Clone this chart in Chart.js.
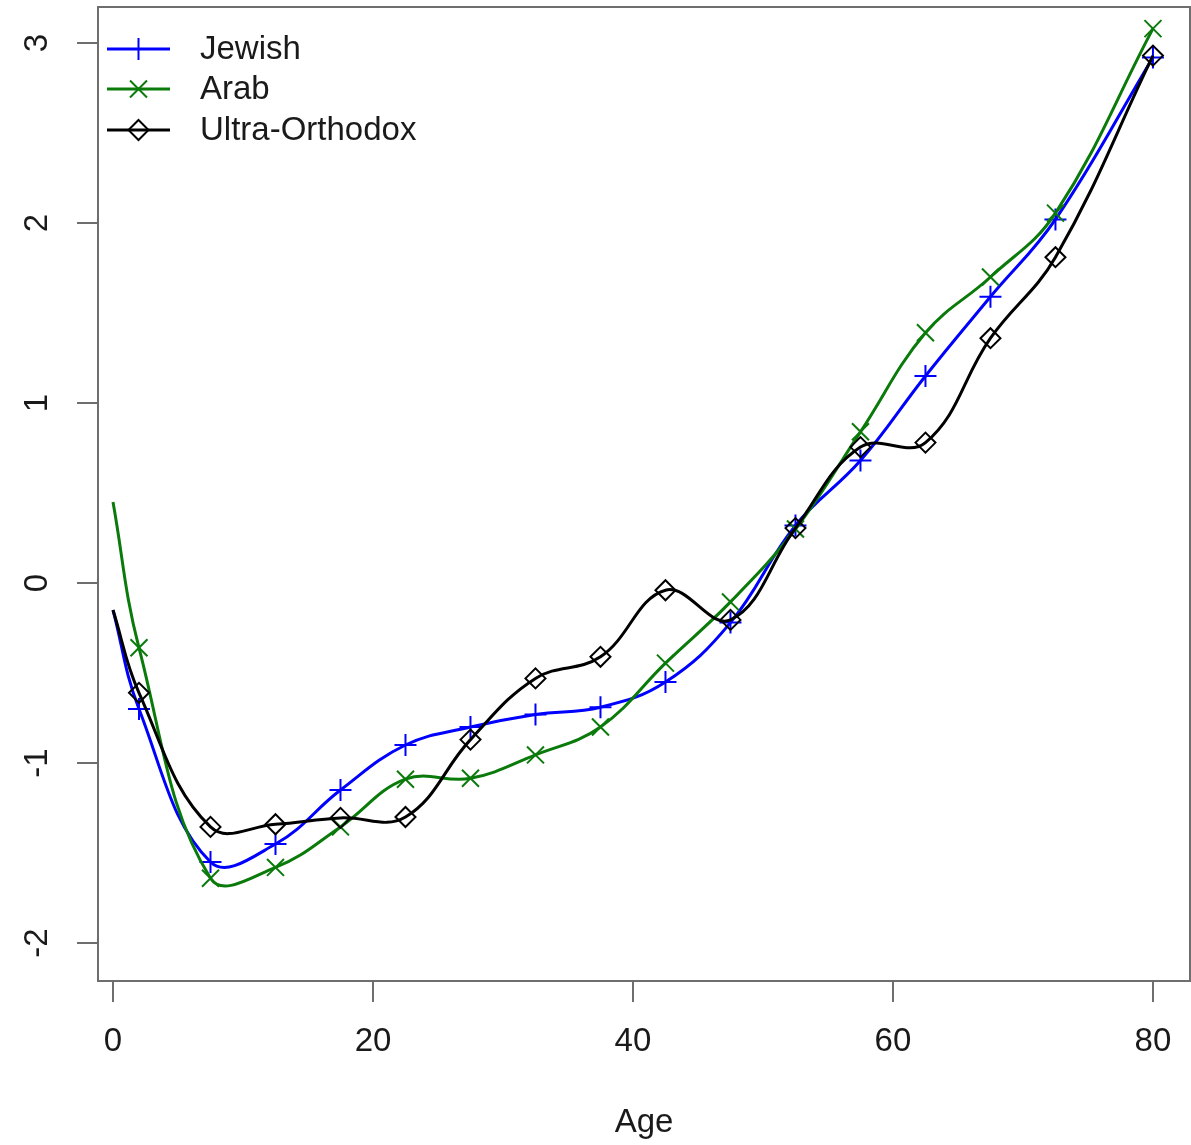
<!DOCTYPE html>
<html>
<head>
<meta charset="utf-8">
<script src="https://cdn.jsdelivr.net/npm/chart.js@4"></script>
<style>
    html, body { margin: 0; padding: 0; background: #fff; }
    #wrap { width: 1191px; height: 1145px; }
</style>
</head>
<body>
<div id="wrap"><canvas id="age-chart" width="1191" height="1145"></canvas></div>
<script>
const ages = [0, 2, 7.5, 12.5, 17.5, 22.5, 27.5, 32.5, 37.5, 42.5, 47.5, 52.5, 57.5, 62.5, 67.5, 72.5, 80]
const jewish = [-0.15, -0.70, -1.55, -1.45, -1.15, -0.90, -0.80, -0.73, -0.69, -0.55, -0.22, 0.32, 0.68, 1.15, 1.59, 2.02, 2.92]
const arab = [0.45, -0.36, -1.64, -1.58, -1.355, -1.09, -1.085, -0.955, -0.80, -0.445, -0.105, 0.30, 0.84, 1.39, 1.70, 2.055, 3.08]
const ultraOrthodox = [-0.15, -0.61, -1.355, -1.34, -1.305, -1.30, -0.87, -0.53, -0.41, -0.04, -0.205, 0.305, 0.755, 0.78, 1.36, 1.81, 2.93]

const xTicks = [0, 20, 40, 60, 80]
const yTicks = [-2, -1, 0, 1, 2, 3]

const FONT = "'Liberation Sans', Arial, sans-serif"
const TEXT_COLOR = "#1a1a1a"
const AXIS_COLOR = "#6e6e6e"

Chart.defaults.font.family = FONT
Chart.defaults.font.size = 33
Chart.defaults.color = TEXT_COLOR

function toPoints(values) {
    return values.map((v, i) => ({x: ages[i], y: v}))
}

// no marker on the first (age 0) point
function radii(r) {
    return ages.map((a, i) => i === 0 ? 0 : r)
}

function makeSeries(label, values, color, pointStyle, r, order) {
    return {
        label: label,
        data: toPoints(values),
        borderColor: color,
        backgroundColor: 'rgba(0,0,0,0)',
        borderWidth: 3,
        tension: 0.4,
        pointStyle: pointStyle,
        pointRadius: radii(r),
        pointBorderWidth: 2,
        pointBorderColor: color,
        pointBackgroundColor: 'rgba(0,0,0,0)',
        order: order
    }
}

// keep the plot region fixed, no extra room for the tick labels
function fixPadding(scale) {
    scale.paddingTop = 0
    scale.paddingBottom = 0
    scale.paddingLeft = 0
    scale.paddingRight = 0
}

// R style box round the plot region
const boxPlugin = {
    id: 'box',
    afterDraw(chart) {
        const {ctx, chartArea} = chart
        ctx.save()
        ctx.strokeStyle = AXIS_COLOR
        ctx.lineWidth = 2
        ctx.strokeRect(chartArea.left, chartArea.top, chartArea.right - chartArea.left, chartArea.bottom - chartArea.top)
        ctx.restore()
    }
}

// legend drawn like R's legend(..., lty=1, pch=...) with bty="n"
const legendPlugin = {
    id: 'rLegend',
    afterDraw(chart) {
        const {ctx, chartArea} = chart
        const rows = [42, 82, 123]
        ctx.save()
        chart.data.datasets.forEach((ds, i) => {
            const y = chartArea.top + rows[i]
            const x0 = chartArea.left + 9
            const x1 = chartArea.left + 72
            ctx.strokeStyle = ds.borderColor
            ctx.lineWidth = 3
            ctx.beginPath()
            ctx.moveTo(x0, y)
            ctx.lineTo(x1, y)
            ctx.stroke()
            ctx.lineWidth = 2
            ctx.fillStyle = 'rgba(0,0,0,0)'
            Chart.helpers.drawPoint(ctx, {
                pointStyle: ds.pointStyle,
                radius: ds.pointRadius[1],
                borderWidth: 2,
                rotation: 0
            }, (x0 + x1) / 2, y)
            ctx.fillStyle = TEXT_COLOR
            ctx.font = "33px " + FONT
            ctx.textAlign = 'left'
            ctx.textBaseline = 'middle'
            ctx.fillText(ds.label, chartArea.left + 102, y + 1)
        })
        ctx.restore()
    }
}

const ageChart = new Chart(document.getElementById('age-chart'), {
    type: 'line',
    data: {
        datasets: [
            makeSeries('Jewish', jewish, '#0000ff', 'cross', 11, 3),
            makeSeries('Arab', arab, '#0a7a0a', 'crossRot', 12, 2),
            makeSeries('Ultra-Orthodox', ultraOrthodox, '#000000', 'rectRot', 10, 1),
        ]
    },
    options: {
        responsive: false,
        animation: false,
        layout: {
            autoPadding: false,
            padding: {top: 7, right: 1, left: 0, bottom: 0}
        },
        scales: {
            x: {
                type: 'linear',
                min: -1.154,
                max: 82.85,
                afterBuildTicks: scale => { scale.ticks = xTicks.map(v => ({value: v})) },
                afterFit: scale => { scale.height = 164; fixPadding(scale) },
                border: {display: false},
                grid: {
                    drawOnChartArea: false,
                    drawTicks: true,
                    tickLength: 21,
                    color: AXIS_COLOR,
                    lineWidth: 2
                },
                ticks: {
                    padding: 20,
                    maxRotation: 0,
                    color: TEXT_COLOR,
                    callback: v => String(v)
                },
                title: {
                    display: true,
                    text: 'Age',
                    color: TEXT_COLOR,
                    padding: {top: 0, bottom: 2}
                }
            },
            y: {
                type: 'linear',
                min: -2.211,
                max: 3.2,
                afterBuildTicks: scale => { scale.ticks = yTicks.map(v => ({value: v})) },
                afterFit: scale => { scale.width = 98; fixPadding(scale) },
                border: {display: false},
                grid: {
                    drawOnChartArea: false,
                    drawTicks: true,
                    tickLength: 21,
                    color: AXIS_COLOR,
                    lineWidth: 2
                },
                ticks: {
                    padding: 24,
                    minRotation: 90,
                    maxRotation: 90,
                    crossAlign: 'center',
                    color: TEXT_COLOR,
                    callback: v => String(v)
                }
            }
        },
        plugins: {
            legend: {display: false},
            tooltip: {enabled: false}
        }
    },
    plugins: [boxPlugin, legendPlugin]
})
</script>
</body>
</html>
